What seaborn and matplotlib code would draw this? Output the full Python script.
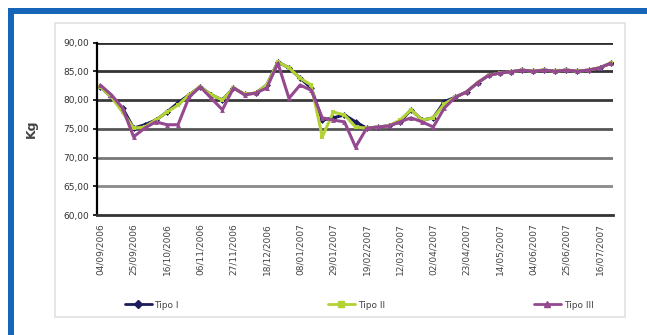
import numpy as np
import pandas as pd
import matplotlib
matplotlib.use("Agg")
import matplotlib.pyplot as plt
from matplotlib.patches import Rectangle
from matplotlib.lines import Line2D
import seaborn as sns

# ---------------- data ----------------
tipo_i = [82.3, 80.5, 78.6, 75.1, 75.7, 76.5, 77.9, 79.5, 80.9, 82.3,
          80.9, 80.0, 82.1, 81.0, 81.2, 82.6, 86.6, 85.6, 83.8, 82.1,
          76.5, 76.9, 77.4, 76.2, 75.1, 75.3, 75.5, 76.2, 78.3, 76.5,
          76.9, 79.7, 80.5, 81.4, 83.0, 84.3, 84.7, 84.9, 85.2, 85.0,
          85.2, 85.0, 85.2, 85.0, 85.2, 85.6, 86.4]
tipo_ii = [82.3, 80.5, 77.9, 75.1, 75.3, 76.5, 77.9, 79.1, 80.9, 82.3,
           80.9, 80.0, 82.1, 81.0, 81.2, 82.6, 86.6, 85.6, 83.8, 82.6,
           73.6, 77.9, 77.4, 75.3, 75.1, 75.3, 75.5, 76.5, 78.3, 76.5,
           76.9, 79.3, 80.5, 81.4, 83.0, 84.3, 84.7, 84.9, 85.2, 85.0,
           85.2, 85.0, 85.2, 85.0, 85.2, 85.6, 86.4]
tipo_iii = [82.6, 80.9, 78.6, 73.6, 75.1, 76.2, 75.7, 75.7, 80.5, 82.3,
            80.3, 78.3, 82.1, 80.9, 81.2, 82.1, 86.4, 80.3, 82.6, 81.7,
            76.9, 76.5, 76.2, 71.8, 75.1, 75.3, 75.5, 76.2, 76.9, 76.2,
            75.3, 78.6, 80.5, 81.4, 83.0, 84.3, 84.7, 84.9, 85.2, 85.0,
            85.2, 85.0, 85.2, 85.0, 85.2, 85.6, 86.4]
series_names = ["Tipo I", "Tipo II", "Tipo III"]
date_labels = ["04/09/2006", "25/09/2006", "16/10/2006", "06/11/2006",
               "27/11/2006", "18/12/2006", "08/01/2007", "29/01/2007",
               "19/02/2007", "12/03/2007", "02/04/2007", "23/04/2007",
               "14/05/2007", "04/06/2007", "25/06/2007", "16/07/2007"]
y_ticks = [60, 65, 70, 75, 80, 85, 90]
y_label = "Kg"

n = len(tipo_i)
df = pd.DataFrame({
    "idx": list(range(n)) * 3,
    "valor": tipo_i + tipo_ii + tipo_iii,
    "Tipo": [series_names[0]] * n + [series_names[1]] * n + [series_names[2]] * n,
})

# ---------------- figure ----------------
sns.set_theme(style="white")
plt.rcParams["font.family"] = ["DejaVu Sans"]

fig = plt.figure(figsize=(6.47, 3.35), dpi=100)
W, H = 647.0, 335.0
ax = fig.add_axes([97 / W, 1 - 215 / H, 516 / W, (215 - 42.5) / H])

palette = {"Tipo I": "#1c1c5c", "Tipo II": "#b2d235", "Tipo III": "#94488f"}
sns.lineplot(data=df, x="idx", y="valor", hue="Tipo", style="Tipo",
             palette=palette, markers=["D", "s", "^"], dashes=False,
             linewidth=2.2, markersize=3.5, markeredgewidth=0,
             ax=ax, legend=False)

ax.set_xlim(-0.3, n - 1 + 0.2)
ax.set_ylim(60, 90)
ax.set_yticks(y_ticks)
ax.set_yticklabels([f"{v:.2f}".replace(".", ",") for v in y_ticks], fontsize=6.5, color="#333333")
ax.set_xticks(list(range(0, n, 3)))
ax.set_xticklabels(date_labels, rotation=90, fontsize=6.5, color="#444444")
ax.set_xticks(list(range(n)), minor=True)
ax.tick_params(axis="x", which="both", direction="out", length=3, width=1.2, color="black", pad=3)
ax.tick_params(axis="y", which="major", direction="out", length=3, width=1.2, color="black", left=True, pad=3)
ax.set_xlabel("")
ax.set_ylabel(y_label, fontsize=9, fontweight="bold", color="#444444", labelpad=18)

# grid lines
ax.grid(False)
grid_colors = {90: "#2e2e2e", 85: "#333333", 80: "#3a3a3a", 75: "#555555", 70: "#777777", 65: "#8a8a8a"}
for v, c in grid_colors.items():
    ax.axhline(v, color=c, linewidth=2.0, zorder=0.5)

for s in ["top", "right"]:
    ax.spines[s].set_visible(False)
ax.spines["left"].set_color("black")
ax.spines["left"].set_linewidth(1.6)
ax.spines["bottom"].set_color("#333333")
ax.spines["bottom"].set_linewidth(2.0)

# legend
handles = [Line2D([0], [0], color=palette[s], lw=2, marker=m, markersize=4)
           for s, m in zip(series_names, ["D", "s", "^"])]
fig.legend(handles, series_names, loc="center", bbox_to_anchor=(359 / W, 1 - 305 / H),
           ncol=3, frameon=False, fontsize=6.5, handlelength=3.0, columnspacing=16.5,
           handletextpad=0.3, labelcolor="#444444")

# chart area border and blue frame
fig.add_artist(Rectangle((55 / W, 1 - 317 / H), 570 / W, 294 / H, transform=fig.transFigure,
                         fill=False, edgecolor="#e2e2e2", linewidth=1.2))
blue = "#1565b8"
fig.add_artist(Rectangle((8 / W, 0), 6 / W, 1 - 8 / H, transform=fig.transFigure,
                         facecolor=blue, edgecolor="none"))
fig.add_artist(Rectangle((8 / W, 1 - 14 / H), 1 - 8 / W, 6 / H, transform=fig.transFigure,
                         facecolor=blue, edgecolor="none"))

fig.savefig("out.png", dpi=100)
